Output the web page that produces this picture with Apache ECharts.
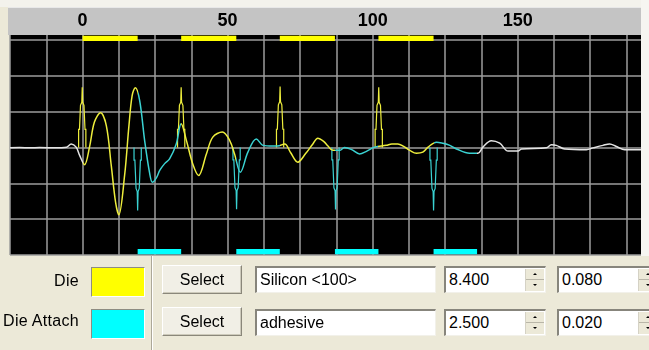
<!DOCTYPE html>
<html>
<head>
<meta charset="utf-8">
<script src="https://cdn.jsdelivr.net/npm/echarts@6/dist/echarts.min.js"></script>
<style>
html, body { margin: 0; padding: 0; }
body { width: 649px; height: 350px; background: #ece9d8; position: relative; overflow: hidden;
       font-family: "Liberation Sans", Arial, sans-serif; color: #000; }
#top { position: absolute; left: 0; top: 0; width: 649px; height: 7px; background: #f3f2ec; }
#edge { position: absolute; left: 641px; top: 0; width: 8px; height: 256px; background: #f6f5f1; }
#hdr { position: absolute; left: 8px; top: 7px; width: 633px; height: 28px; background: #c4c4c4;
       border-top: 1px solid #e8e8e8; box-sizing: border-box; }
#chart { position: absolute; left: 0; top: 0; width: 649px; height: 350px; }
.sep { position: absolute; left: 151px; top: 256px; width: 1px; height: 94px; background: #aca899;
       border-right: 1px solid #fff; }
.lbl { position: absolute; left: 0; width: 79px; text-align: right; font-size: 16px; line-height: 20px;
       letter-spacing: 0.3px; }
.sw { position: absolute; left: 91px; width: 52px; height: 28px;
      border-style: solid; border-width: 1px; border-color: #8e8c82 #fff #fff #8e8c82; }
.btn { position: absolute; left: 162px; width: 78px; height: 27px; background: #f1efe6;
       border: 1px solid; border-color: #fff #8a877a #8a877a #fff; box-shadow: inset -1px -1px #cdcabb;
       text-align: center; font-size: 16px; line-height: 27px; }
.fld { position: absolute; height: 24px; background: #fff; font-size: 16px; line-height: 24px;
       padding-left: 3px; box-sizing: content-box;
       border-style: solid; border-width: 2px 1px 1px 2px; border-color: #87857c #f2f1ea #f2f1ea #87857c; }
.spin { position: absolute; right: 1px; top: 1px; width: 18px; height: 22px; background: #ece9d8;
        border-left: 1px solid #d5d2c5; }
.spin .h { position: absolute; left: 0; width: 18px; height: 11px; }
.spin .u { top: 0; border-bottom: 1px solid #b9b6a8; height: 10px; }
.spin .d { top: 11px; }
.spin .u::after { content: ""; position: absolute; left: 7px; top: 4px; border-left: 2px solid transparent;
                  border-right: 2px solid transparent; border-bottom: 2px solid #000; }
.spin .d::after { content: ""; position: absolute; left: 7px; top: 4px; border-left: 2px solid transparent;
                  border-right: 2px solid transparent; border-top: 2px solid #000; }
</style>
</head>
<body>
<div id="top"></div>
<div id="edge"></div>
<div id="hdr"></div>
<div id="chart"></div>

<div class="sep"></div>
<div class="lbl" style="top:271px">Die</div>
<div class="lbl" style="top:311px">Die Attach</div>
<div class="sw" style="top:267px;background:#ffff00"></div>
<div class="sw" style="top:309px;background:#00ffff"></div>
<div class="btn" style="top:265px">Select</div>
<div class="btn" style="top:307px">Select</div>
<div class="fld" style="left:255px;top:266px;width:175px">Silicon &lt;100&gt;</div>
<div class="fld" style="left:255px;top:309px;width:175px">adhesive</div>
<div class="fld" style="left:444px;top:266px;width:96px">8.400<div class="spin"><div class="h u"></div><div class="h d"></div></div></div>
<div class="fld" style="left:444px;top:309px;width:96px">2.500<div class="spin"><div class="h u"></div><div class="h d"></div></div></div>
<div class="fld" style="left:557px;top:266px;width:96px">0.080<div class="spin"><div class="h u"></div><div class="h d"></div></div></div>
<div class="fld" style="left:557px;top:309px;width:96px">0.020<div class="spin"><div class="h u"></div><div class="h d"></div></div></div>

<script>
// Depth scale labels shown in the header strip
const xLabels = [0, 50, 100, 150];

// Layer extents along the depth axis (die / die attach stack)
const dieLayers = [[0, 19], [34, 53], [68, 87], [102, 121]];
const attachLayers = [[19, 34], [53, 68], [87, 102], [121, 136]];

// Echo waveform samples (depth, amplitude in grid divisions)
const waveX = [-25, -21.7, -18, -14.8, -9.7, -5.5, -3.9, -2.2, -1.0, 0.7, 2.4, 4.1, 6.2, 8.2, 9.9, 11.4, 12.5,
  14.5, 16.0, 17.1, 18.2, 19.7, 21.4, 23.1, 24.1, 25.5, 26.6, 28.3, 30.0, 32.3, 34.0, 35.8, 38.0, 40.0,
  42.7, 44.9, 48.2, 50.7, 52.4, 54.4, 57.0, 59.9, 62.2, 65.6, 67.2, 69.7, 71.7, 74.2, 76.9, 79.4, 81.1,
  83.1, 84.6, 86.3, 88.6, 90.3, 92.8, 95.5, 98.0, 100.7, 104.7, 106.6, 108.7, 110.7, 112.8, 115.1, 117.3,
  119.1, 122.0, 124.1, 126.6, 128.9, 133.4, 136.3, 138.0, 140.9, 143.8, 146.7, 150.1, 151.3, 159.9, 161.6,
  163.3, 166.2, 173.7, 176.0, 179.4, 181.7, 184.0, 186.9, 192.5];
const waveY = [-0.01, 0.0, -0.01, 0.0, -0.01, 0.01, 0.10, 0.01, -0.22, -0.48, 0.01, 0.71, 0.97, 0.61, -0.50,
  -1.53, -1.88, -0.78, 0.61, 1.45, 1.67, 1.31, 0.20, -0.70, -0.97, -0.84, -0.64, -0.45, -0.32, 0.10, 0.66,
  0.20, -0.46, -0.78, -0.18, 0.29, 0.43, 0.20, -0.18, -0.69, -0.13, 0.24, 0.06, 0.04, 0.04, 0.10, -0.14,
  -0.41, -0.17, 0.10, 0.26, 0.17, 0.04, -0.08, -0.08, 0.0, -0.06, -0.18, -0.10, 0.01, 0.06, 0.10, 0.10,
  0.03, -0.08, -0.16, -0.13, 0.01, 0.15, 0.12, 0.06, -0.04, -0.16, -0.16, 0.01, 0.19, 0.12, -0.10, -0.10,
  -0.04, -0.01, 0.08, 0.06, -0.04, -0.06, -0.01, 0.06, 0.10, 0.03, -0.06, -0.06];

// Interface echo markers: positions and peak amplitudes
const dieEchoX = [-0.1, 34.0, 68.1, 102.1];
const dieEchoAmp = [1.68, 1.68, 1.70, 1.68];
const attachEchoX = [19.0, 53.1, 87.2, 121.0];
const attachEchoAmp = [-1.76, -1.72, -1.73, -1.76];
// Stepped outline of an echo marker: [depth offset, fraction of peak]
const dieEchoShape = [[-1.25, 0], [-1.25, 0.3], [-0.95, 0.3], [-0.6, 0.7], [-0.15, 0.75], [0, 1],
  [0.15, 0.75], [0.6, 0.7], [0.95, 0.3], [1.25, 0.3], [1.25, 0]];
const attachEchoShape = [[-1.25, 0], [-1.25, 0.2], [-0.95, 0.2], [-0.55, 0.65], [-0.15, 0.7], [0, 1],
  [0.15, 0.7], [0.55, 0.65], [0.95, 0.2], [1.25, 0.2], [1.25, 0]];

const YELLOW = '#ffff00', CYAN = '#00ffff';
const WAVE_YELLOW = '#eeee3c', WAVE_CYAN = '#3ad2d2', WAVE_WHITE = '#e4e4e4';
const GRID = '#9c9c9c';

const pieces = [{ lt: dieLayers[0][0], color: WAVE_WHITE }];
dieLayers.forEach(([s, e]) => pieces.push({ gte: s, lt: e, color: WAVE_YELLOW }));
attachLayers.forEach(([s, e]) => pieces.push({ gte: s, lt: e, color: WAVE_CYAN }));
pieces.push({ gte: attachLayers[attachLayers.length - 1][1], color: WAVE_WHITE });

function layerBars(layers, color, atBottom) {
  return {
    type: 'custom',
    z: 4,
    silent: true,
    data: layers.map(([s, e]) => [s, e, 0]),
    encode: { x: [0, 1], y: 2 },
    renderItem: (params, api) => {
      const a = api.coord([api.value(0), 0]);
      const b = api.coord([api.value(1), 0]);
      const cs = params.coordSys;
      const y = atBottom ? cs.y + cs.height - 6 : cs.y + 0.7;
      return { type: 'rect', shape: { x: a[0], y: y, width: b[0] - a[0], height: 5.3 }, style: { fill: color } };
    }
  };
}

function echoMarkers(xs, amps, shape, color) {
  return {
    type: 'custom',
    z: 3,
    silent: true,
    data: xs.map((x, i) => [x, amps[i]]),
    encode: { x: 0, y: 1 },
    renderItem: (params, api) => {
      const cx = api.value(0), amp = api.value(1);
      const pts = shape.map(([dx, f]) => api.coord([cx + dx, amp * f]));
      return { type: 'polyline', shape: { points: pts }, style: { stroke: color, lineWidth: 1.2, fill: null } };
    }
  };
}

const chart = echarts.init(document.getElementById('chart'), null, { renderer: 'canvas' });
chart.setOption({
  animation: false,
  backgroundColor: 'transparent',
  grid: { left: 10, right: 8, top: 35, bottom: 95, show: true, backgroundColor: '#000', borderWidth: 0 },
  xAxis: {
    type: 'value', position: 'top', min: -25, max: 192.5, interval: 12.5,
    axisLine: { show: false }, axisTick: { show: false },
    splitLine: { show: true, showMaxLine: false, lineStyle: { color: GRID, width: 1.5 } },
    axisLabel: {
      margin: 5, fontSize: 18, fontWeight: 'bold', color: '#000', fontFamily: 'Liberation Sans',
      formatter: v => (xLabels.includes(v) ? String(v) : '')
    }
  },
  yAxis: {
    type: 'value', min: -3, max: 3.14, interval: 1,
    axisLine: { show: false }, axisTick: { show: false }, axisLabel: { show: false },
    splitLine: { show: true, showMaxLine: false, lineStyle: { color: GRID, width: 1.5 } }
  },
  visualMap: { type: 'piecewise', show: false, dimension: 0, seriesIndex: 0, pieces: pieces },
  series: [
    {
      type: 'line', z: 3, silent: true, showSymbol: false, smooth: 0.35,
      data: waveX.map((x, i) => [x, waveY[i]]),
      lineStyle: { width: 1.5 }
    },
    echoMarkers(dieEchoX, dieEchoAmp, dieEchoShape, WAVE_YELLOW),
    echoMarkers(attachEchoX, attachEchoAmp, attachEchoShape, WAVE_CYAN),
    layerBars(dieLayers, YELLOW, false),
    layerBars(attachLayers, CYAN, true)
  ]
});
</script>
</body>
</html>
